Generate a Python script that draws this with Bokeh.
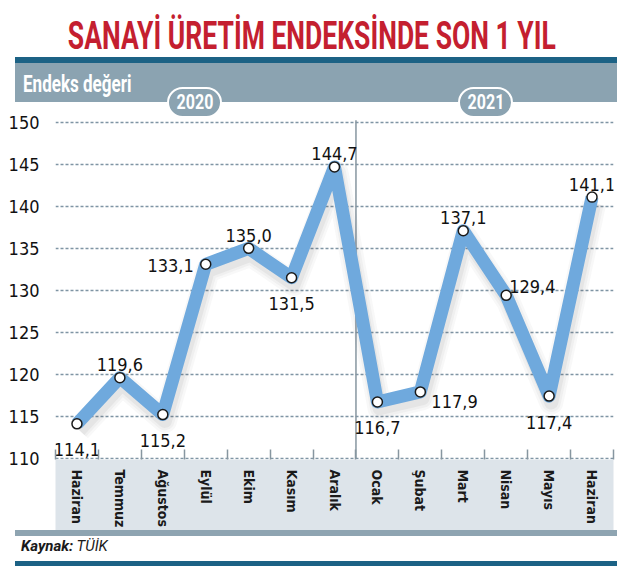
from bokeh.core.properties import value
from bokeh.embed import file_html
from bokeh.layouts import column
from bokeh.models import ColumnDataSource, Div, FixedTicker, Range1d
from bokeh.plotting import figure
from bokeh.resources import INLINE
from bokeh.transform import dodge

months = ["Haziran", "Temmuz", "Ağustos", "Eylül", "Ekim", "Kasım", "Aralık",
          "Ocak", "Şubat", "Mart", "Nisan", "Mayıs", "Haziran"]
index_values = [114.1, 119.6, 115.2, 133.1, 135.0, 131.5, 144.7,
                116.7, 117.9, 137.1, 129.4, 117.4, 141.1]
y_ticks = [110, 115, 120, 125, 130, 135, 140, 145, 150]
years = ["2020", "2021"]
title_text = "SANAYİ ÜRETİM ENDEKSİNDE SON 1 YIL"
unit_text = "Endeks değeri"
source_label = "Kaynak:"
source_name = "TÜİK"

# where each value label sits relative to its point
label_side = ["below", "above", "below", "left", "above", "below", "above",
              "below", "right", "above", "above_right", "below", "above"]
# (x offset px, y offset px, alignment), alphabetic baseline
SIDES = {
    "above": (0, -13, "center"),
    "below": (0, 26, "center"),
    "left": (-12, 1, "right"),
    "right": (11, 10, "left"),
    "above_right": (3, -9, "left"),
}

NARROW = "Liberation Sans Narrow, DejaVu Sans Condensed, sans-serif"
LINE_BLUE = "#6fa9dd"
BAND = "#8ba3b1"
TEAL = "#1c6285"
GRID = "#7f95a4"

src = ColumnDataSource(dict(
    x=list(range(len(months))),
    y=index_values,
    label=[f"{v:.1f}".replace(".", ",") for v in index_values],
    dx=[SIDES[s][0] for s in label_side],
    dy=[SIDES[s][1] for s in label_side],
    align=[SIDES[s][2] for s in label_side],
))

p = figure(
    width=631, height=428,
    x_range=Range1d(-0.5, len(months) - 0.5),
    y_range=Range1d(109.85, 152.37),
    output_backend="svg", toolbar_location=None,
    min_border_left=55, min_border_right=18,
    min_border_top=0, min_border_bottom=70,
    outline_line_color=None,
)

# grid
p.xgrid.visible = False
p.ygrid.ticker = FixedTicker(ticks=y_ticks)
p.ygrid.grid_line_color = GRID
p.ygrid.grid_line_dash = "3 2"
p.ygrid.grid_line_width = 1.4

# year divider between Aralık and Ocak
split = months.index("Ocak") - 0.5
p.segment(x0=[split], y0=[y_ticks[0]], x1=[split], y1=[y_ticks[-1] + 0.25],
          line_color="#8796a0", line_width=1.5)

# soft drop shadow under the line
for w, a in [(24, 0.035), (19, 0.045), (14, 0.06)]:
    p.line(dodge("x", 0.05, range=p.x_range), dodge("y", -0.75, range=p.y_range),
           source=src, line_width=w, line_color="#404040", line_alpha=a,
           line_join="round")
p.line("x", "y", source=src, line_width=13, line_color=LINE_BLUE,
       line_join="round")
p.scatter("x", "y", source=src, marker="circle", size=10,
          fill_color="white", line_color="#1a1a1a", line_width=1.5)
p.text("x", "y", text="label", source=src, x_offset="dx", y_offset="dy",
       text_align="align", text_baseline="alphabetic",
       text_font=value(NARROW), text_font_size="18px", text_color="#111111")

# y axis
p.yaxis.ticker = FixedTicker(ticks=y_ticks)
p.yaxis.axis_line_color = None
p.yaxis.major_tick_line_color = None
p.yaxis.minor_tick_line_color = None
p.yaxis.major_label_standoff = 10
p.yaxis.major_label_text_font = NARROW
p.yaxis.major_label_text_font_size = "18px"
p.yaxis.major_label_text_color = "#111111"

# x axis: month names, small ticks between months
p.xaxis.ticker = FixedTicker(
    ticks=list(range(len(months))),
    minor_ticks=[i - 0.5 for i in range(len(months) + 1)])
p.xaxis.major_label_overrides = {i: m for i, m in enumerate(months)}
p.xaxis.major_label_orientation = "vertical"
p.xaxis.axis_line_color = None
p.xaxis.major_tick_line_color = None
p.xaxis.minor_tick_in = 10
p.xaxis.minor_tick_out = 0
p.xaxis.minor_tick_line_color = "#8796a0"
p.xaxis.minor_tick_line_width = 1.5
p.xaxis.major_label_standoff = 4
p.xaxis.major_label_text_font = NARROW
p.xaxis.major_label_text_font_style = "bold"
p.xaxis.major_label_text_font_size = "14px"
p.xaxis.major_label_text_color = "#1a1a1a"
xaxis = p.xaxis[0]
if "background_fill_color" in xaxis.properties():
    xaxis.background_fill_color = "#dde4ea"

pills = "".join(
    f'<div style="position:absolute;left:{left}px;top:87px;width:55px;height:31px;'
    f'box-sizing:border-box;border:2px solid white;border-radius:16px;background:{BAND};'
    f'color:white;font:bold 20px/27px Roboto;text-align:center;">'
    f'<span style="display:inline-block;transform:scaleX(0.8);">{yr}</span></div>'
    for left, yr in zip([167, 458], years))

header = Div(width=631, height=102, margin=(0, 0, 0, 0),
             styles={"overflow": "visible", "position": "relative", "z-index": "10"},
             text=(
    '<div style="position:relative;width:631px;height:102px;overflow:visible;">'
    '<div style="position:absolute;left:-188px;top:17px;width:1000px;text-align:center;'
    'font:bold 39px/39px Roboto;color:#c41f30;white-space:nowrap;">'
    f'<span style="display:inline-block;transform:scaleX(0.68);">{title_text}</span></div>'
    f'<div style="position:absolute;left:15px;top:57px;width:602px;height:6px;background:{TEAL};"></div>'
    f'<div style="position:absolute;left:15px;top:63px;width:602px;height:39px;background:{BAND};"></div>'
    '<div style="position:absolute;left:23px;top:72px;font:bold 24px/24px Roboto;color:white;'
    'white-space:nowrap;transform:scaleX(0.71);transform-origin:left;">'
    f'{unit_text}</div>'
    f'{pills}</div>'))

footer = Div(width=631, height=40, margin=(0, 0, 0, 0), text=(
    '<div style="position:relative;width:631px;height:40px;overflow:hidden;">'
    '<div style="position:absolute;left:15px;top:0;width:602px;height:6px;background:#8ea4b1;"></div>'
    '<div style="position:absolute;left:21px;top:9px;font:italic 15px/15px Roboto;color:#1a1a1a;'
    f'white-space:nowrap;"><b>{source_label}</b> {source_name}</div>'
    f'<div style="position:absolute;left:15px;top:31px;width:602px;height:5px;background:{TEAL};"></div>'
    '</div>'))

layout = column(header, p, footer, spacing=0)
open("out.html", "w").write(file_html(layout, INLINE))
